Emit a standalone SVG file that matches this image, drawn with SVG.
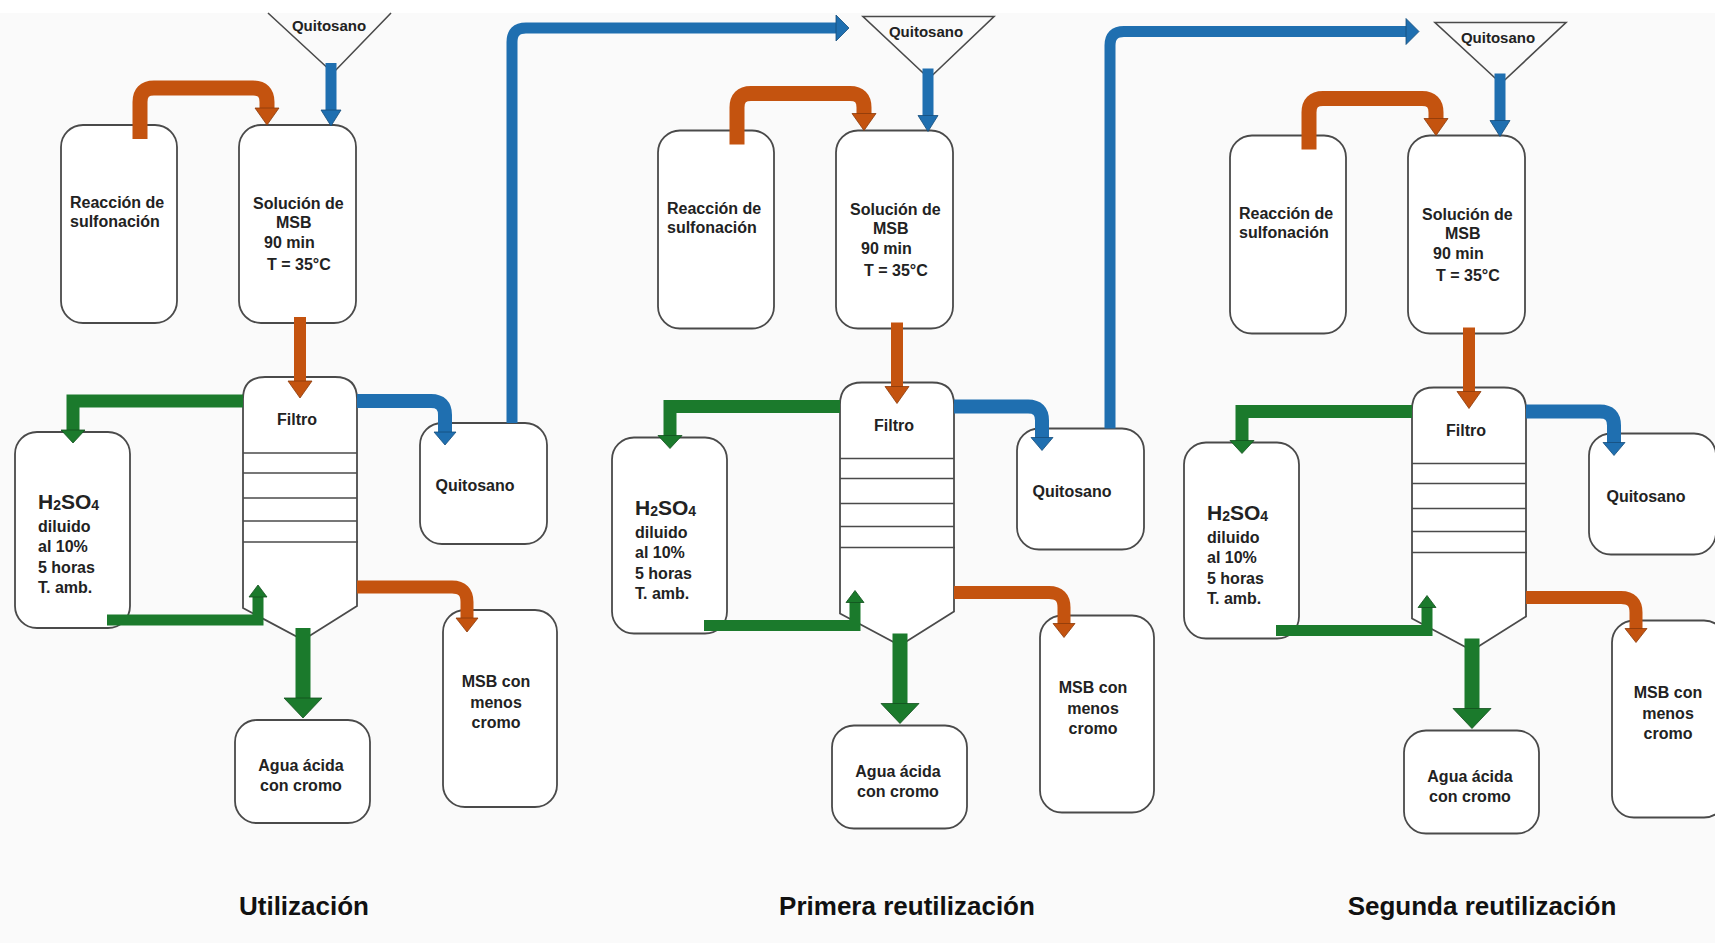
<svg xmlns="http://www.w3.org/2000/svg" width="1715" height="943" viewBox="0 0 1715 943">
<style>
.bg{fill:#fafafa}
.box{fill:#fff;stroke:#4a4a4a;stroke-width:1.8}
.ln{fill:none;stroke:#4a4a4a;stroke-width:1.6}
.t{font-family:"Liberation Sans",Arial,sans-serif;font-weight:bold;font-size:16px;fill:#222}
.c{text-anchor:middle}
.big{font-size:21px}
.sub{font-size:14px}
.title{font-size:26px;fill:#111}
.sh{fill:none;stroke-linejoin:miter;stroke-linecap:butt}
.or{stroke:#c4530f}
.bl{stroke:#1f6fb0}
.gr{stroke:#1b7a2c}
.orf{fill:#c4530f;stroke:#8a3a0a;stroke-width:0.8}
.blf{fill:#1f6fb0;stroke:#154d7a;stroke-width:0.8}
.grf{fill:#1b7a2c;stroke:#124f1d;stroke-width:0.8}
</style>
<rect x="0" y="0" width="1715" height="943" fill="#fff"/>
<rect class="bg" x="0" y="13" width="1715" height="930"/>

<!-- ===== Panel 1 ===== -->
<g id="panel1">
  <g id="p1-funnel">
    <polyline class="ln" points="268,13 333,73 391,13"/>
    <text class="t c" x="329" y="31" style="font-size:15px">Quitosano</text>
  </g>
  <g id="p1-reaccion">
    <rect class="box" x="61" y="125" width="116" height="198" rx="22"/>
    <text class="t" x="70" y="208">Reacción de</text>
    <text class="t" x="70" y="227">sulfonación</text>
  </g>
  <g id="p1-solucion">
    <rect class="box" x="239" y="125" width="117" height="198" rx="22"/>
    <text class="t" x="253" y="209">Solución de</text>
    <text class="t" x="276" y="228">MSB</text>
    <text class="t" x="264" y="248">90 min</text>
    <text class="t" x="267" y="270">T = 35°C</text>
  </g>
  <g id="p1-filtro">
    <path class="box" d="M243,608 V399 Q243,377 265,377 H335 Q357,377 357,399 V606 L303,640 Z"/>
    <line class="ln" x1="243" y1="453" x2="357" y2="453"/>
    <line class="ln" x1="243" y1="473" x2="357" y2="473"/>
    <line class="ln" x1="243" y1="498" x2="357" y2="498"/>
    <line class="ln" x1="243" y1="521" x2="357" y2="521"/>
    <line class="ln" x1="243" y1="542" x2="358" y2="542"/>
    <text class="t c" x="297" y="425">Filtro</text>
  </g>
  <g id="p1-h2so4">
    <rect class="box" x="15" y="432" width="115" height="196" rx="22"/>
    <text class="t big" x="38" y="509">H<tspan class="sub" dy="1">2</tspan><tspan dy="-1">SO</tspan><tspan class="sub" dy="1">4</tspan></text>
    <text class="t" x="38" y="532">diluido</text>
    <text class="t" x="38" y="552">al 10%</text>
    <text class="t" x="38" y="573">5 horas</text>
    <text class="t" x="38" y="593">T. amb.</text>
  </g>
  <g id="p1-quitosano">
    <rect class="box" x="420" y="423" width="127" height="121" rx="22"/>
    <text class="t c" x="475" y="491">Quitosano</text>
  </g>
  <g id="p1-msb">
    <rect class="box" x="443" y="610" width="114" height="197" rx="22"/>
    <text class="t c" x="496" y="687">MSB con</text>
    <text class="t c" x="496" y="708">menos</text>
    <text class="t c" x="496" y="728">cromo</text>
  </g>
  <g id="p1-agua">
    <rect class="box" x="235" y="720" width="135" height="103" rx="22"/>
    <text class="t c" x="301" y="771">Agua ácida</text>
    <text class="t c" x="301" y="791">con cromo</text>
  </g>
  <g id="p1-connectors">
    <path class="sh or" stroke-width="15" d="M140,139 V102 Q140,88 154,88 H253 Q267,88 267,102 V109"/>
    <polygon class="orf" points="255,108 279,108 267,125"/>
    <line class="sh bl" stroke-width="11" x1="331" y1="63" x2="331" y2="111"/>
    <polygon class="blf" points="321,110 341,110 331,126"/>
    <line class="sh or" stroke-width="12" x1="300" y1="317" x2="300" y2="382"/>
    <polygon class="orf" points="288,381 312,381 300,398"/>
    <path class="sh gr" stroke-width="13" d="M243,401 H73 V431"/>
    <polygon class="grf" points="61,430 85,430 73,443"/>
    <path class="sh bl" stroke-width="14" d="M357,401 H431 Q445,401 445,415 V433"/>
    <polygon class="blf" points="434,432 456,432 445,445"/>
    <path class="sh gr" stroke-width="11" d="M107,620 H258 V596"/>
    <polygon class="grf" points="249,597 267,597 258,585"/>
    <path class="sh or" stroke-width="13" d="M357,587 H452 Q467,587 467,602 V619"/>
    <polygon class="orf" points="456,618 478,618 467,632"/>
    <line class="sh gr" stroke-width="15" x1="303" y1="628" x2="303" y2="699"/>
    <polygon class="grf" points="284,698 322,698 303,718"/>
    <path class="sh bl" stroke-width="11" d="M512,423 V42 Q512,28 526,28 H837"/>
    <polygon class="blf" points="836,15 836,41 849,28"/>
  </g>
</g>

<!-- ===== Panel 2 ===== -->
<g id="panel2" transform="translate(597,5.5)">
  <g id="p2-funnel">
    <polygon class="ln" points="266,11 397,11 332,73"/>
    <text class="t c" x="329" y="31" style="font-size:15px">Quitosano</text>
  </g>
  <g id="p2-reaccion">
    <rect class="box" x="61" y="125" width="116" height="198" rx="22"/>
    <text class="t" x="70" y="208">Reacción de</text>
    <text class="t" x="70" y="227">sulfonación</text>
  </g>
  <g id="p2-solucion">
    <rect class="box" x="239" y="125" width="117" height="198" rx="22"/>
    <text class="t" x="253" y="209">Solución de</text>
    <text class="t" x="276" y="228">MSB</text>
    <text class="t" x="264" y="248">90 min</text>
    <text class="t" x="267" y="270">T = 35°C</text>
  </g>
  <g id="p2-filtro">
    <path class="box" d="M243,608 V399 Q243,377 265,377 H335 Q357,377 357,399 V606 L303,640 Z"/>
    <line class="ln" x1="243" y1="453" x2="357" y2="453"/>
    <line class="ln" x1="243" y1="473" x2="357" y2="473"/>
    <line class="ln" x1="243" y1="498" x2="357" y2="498"/>
    <line class="ln" x1="243" y1="521" x2="357" y2="521"/>
    <line class="ln" x1="243" y1="542" x2="358" y2="542"/>
    <text class="t c" x="297" y="425">Filtro</text>
  </g>
  <g id="p2-h2so4">
    <rect class="box" x="15" y="432" width="115" height="196" rx="22"/>
    <text class="t big" x="38" y="509">H<tspan class="sub" dy="1">2</tspan><tspan dy="-1">SO</tspan><tspan class="sub" dy="1">4</tspan></text>
    <text class="t" x="38" y="532">diluido</text>
    <text class="t" x="38" y="552">al 10%</text>
    <text class="t" x="38" y="573">5 horas</text>
    <text class="t" x="38" y="593">T. amb.</text>
  </g>
  <g id="p2-quitosano">
    <rect class="box" x="420" y="423" width="127" height="121" rx="22"/>
    <text class="t c" x="475" y="491">Quitosano</text>
  </g>
  <g id="p2-msb">
    <rect class="box" x="443" y="610" width="114" height="197" rx="22"/>
    <text class="t c" x="496" y="687">MSB con</text>
    <text class="t c" x="496" y="708">menos</text>
    <text class="t c" x="496" y="728">cromo</text>
  </g>
  <g id="p2-agua">
    <rect class="box" x="235" y="720" width="135" height="103" rx="22"/>
    <text class="t c" x="301" y="771">Agua ácida</text>
    <text class="t c" x="301" y="791">con cromo</text>
  </g>
  <g id="p2-connectors">
    <path class="sh or" stroke-width="15" d="M140,139 V102 Q140,88 154,88 H253 Q267,88 267,102 V109"/>
    <polygon class="orf" points="255,108 279,108 267,125"/>
    <line class="sh bl" stroke-width="11" x1="331" y1="63" x2="331" y2="111"/>
    <polygon class="blf" points="321,110 341,110 331,126"/>
    <line class="sh or" stroke-width="12" x1="300" y1="317" x2="300" y2="382"/>
    <polygon class="orf" points="288,381 312,381 300,398"/>
    <path class="sh gr" stroke-width="13" d="M243,401 H73 V431"/>
    <polygon class="grf" points="61,430 85,430 73,443"/>
    <path class="sh bl" stroke-width="14" d="M357,401 H431 Q445,401 445,415 V433"/>
    <polygon class="blf" points="434,432 456,432 445,445"/>
    <path class="sh gr" stroke-width="11" d="M107,620 H258 V596"/>
    <polygon class="grf" points="249,597 267,597 258,585"/>
    <path class="sh or" stroke-width="13" d="M357,587 H452 Q467,587 467,602 V619"/>
    <polygon class="orf" points="456,618 478,618 467,632"/>
    <line class="sh gr" stroke-width="15" x1="303" y1="628" x2="303" y2="699"/>
    <polygon class="grf" points="284,698 322,698 303,718"/>
    <path class="sh bl" stroke-width="11" d="M513,423 V40 Q513,26 527,26 H810"/>
    <polygon class="blf" points="809,13 809,39 822,26"/>
  </g>
</g>

<!-- ===== Panel 3 ===== -->
<g id="panel3" transform="translate(1169,10.5)">
  <g id="p3-funnel">
    <polygon class="ln" points="266,12 397,12 332,73"/>
    <text class="t c" x="329" y="32" style="font-size:15px">Quitosano</text>
  </g>
  <g id="p3-reaccion">
    <rect class="box" x="61" y="125" width="116" height="198" rx="22"/>
    <text class="t" x="70" y="208">Reacción de</text>
    <text class="t" x="70" y="227">sulfonación</text>
  </g>
  <g id="p3-solucion">
    <rect class="box" x="239" y="125" width="117" height="198" rx="22"/>
    <text class="t" x="253" y="209">Solución de</text>
    <text class="t" x="276" y="228">MSB</text>
    <text class="t" x="264" y="248">90 min</text>
    <text class="t" x="267" y="270">T = 35°C</text>
  </g>
  <g id="p3-filtro">
    <path class="box" d="M243,608 V399 Q243,377 265,377 H335 Q357,377 357,399 V606 L303,640 Z"/>
    <line class="ln" x1="243" y1="453" x2="357" y2="453"/>
    <line class="ln" x1="243" y1="473" x2="357" y2="473"/>
    <line class="ln" x1="243" y1="498" x2="357" y2="498"/>
    <line class="ln" x1="243" y1="521" x2="357" y2="521"/>
    <line class="ln" x1="243" y1="542" x2="358" y2="542"/>
    <text class="t c" x="297" y="425">Filtro</text>
  </g>
  <g id="p3-h2so4">
    <rect class="box" x="15" y="432" width="115" height="196" rx="22"/>
    <text class="t big" x="38" y="509">H<tspan class="sub" dy="1">2</tspan><tspan dy="-1">SO</tspan><tspan class="sub" dy="1">4</tspan></text>
    <text class="t" x="38" y="532">diluido</text>
    <text class="t" x="38" y="552">al 10%</text>
    <text class="t" x="38" y="573">5 horas</text>
    <text class="t" x="38" y="593">T. amb.</text>
  </g>
  <g id="p3-quitosano">
    <rect class="box" x="420" y="423" width="127" height="121" rx="22"/>
    <text class="t c" x="477" y="491">Quitosano</text>
  </g>
  <g id="p3-msb">
    <rect class="box" x="443" y="610" width="114" height="197" rx="22"/>
    <text class="t c" x="499" y="687">MSB con</text>
    <text class="t c" x="499" y="708">menos</text>
    <text class="t c" x="499" y="728">cromo</text>
  </g>
  <g id="p3-agua">
    <rect class="box" x="235" y="720" width="135" height="103" rx="22"/>
    <text class="t c" x="301" y="771">Agua ácida</text>
    <text class="t c" x="301" y="791">con cromo</text>
  </g>
  <g id="p3-connectors">
    <path class="sh or" stroke-width="15" d="M140,139 V102 Q140,88 154,88 H253 Q267,88 267,102 V109"/>
    <polygon class="orf" points="255,108 279,108 267,125"/>
    <line class="sh bl" stroke-width="11" x1="331" y1="63" x2="331" y2="111"/>
    <polygon class="blf" points="321,110 341,110 331,126"/>
    <line class="sh or" stroke-width="12" x1="300" y1="317" x2="300" y2="382"/>
    <polygon class="orf" points="288,381 312,381 300,398"/>
    <path class="sh gr" stroke-width="13" d="M243,401 H73 V431"/>
    <polygon class="grf" points="61,430 85,430 73,443"/>
    <path class="sh bl" stroke-width="14" d="M357,401 H431 Q445,401 445,415 V433"/>
    <polygon class="blf" points="434,432 456,432 445,445"/>
    <path class="sh gr" stroke-width="11" d="M107,620 H258 V596"/>
    <polygon class="grf" points="249,597 267,597 258,585"/>
    <path class="sh or" stroke-width="13" d="M357,587 H452 Q467,587 467,602 V619"/>
    <polygon class="orf" points="456,618 478,618 467,632"/>
    <line class="sh gr" stroke-width="15" x1="303" y1="628" x2="303" y2="699"/>
    <polygon class="grf" points="284,698 322,698 303,718"/>
  </g>
</g>

<g id="titles">
  <text class="t c title" x="304" y="915">Utilización</text>
  <text class="t c title" x="907" y="915">Primera reutilización</text>
  <text class="t c title" x="1482" y="915">Segunda reutilización</text>
</g>
</svg>
